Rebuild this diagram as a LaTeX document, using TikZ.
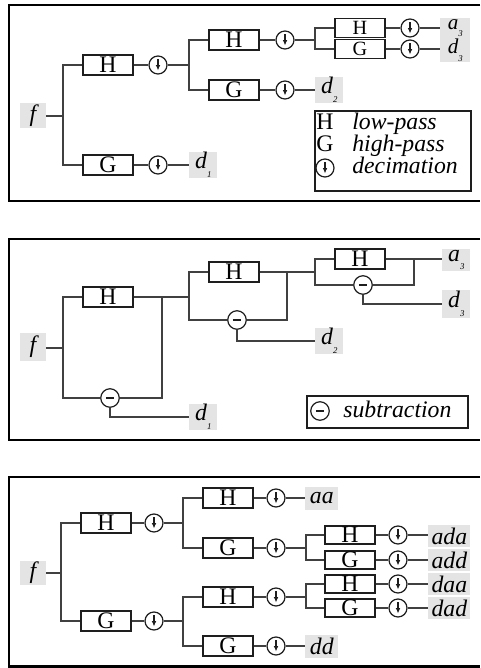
\documentclass[tikz,border=0pt]{standalone}
\usepackage{fontspec}
\setmainfont{Liberation Serif}
\usetikzlibrary{arrows.meta,positioning,calc}
\definecolor{Ink}{HTML}{1E1E1E}
\definecolor{Wire}{HTML}{404040}
\definecolor{Shade}{HTML}{E4E4E4}
\newcommand{\lsub}[2]{\textit{#1}\raisebox{-0.8ex}{\fontsize{5}{5}\selectfont\textit{#2}}}
\tikzset{
  filt/.style={draw=Ink,line width=0.7pt,minimum width=1cm,minimum height=0.4cm,inner sep=0pt,font=\fontsize{13.5}{13.5}\selectfont},
  decim/.style={circle,draw=Ink,line width=0.7pt,minimum size=0.36cm,inner sep=0pt,
    path picture={\draw[line width=0.6pt,-{Latex[length=3pt,width=2.6pt]}] ([yshift=-1.8pt]path picture bounding box.north)--([yshift=2pt]path picture bounding box.south);}},
  subt/.style={circle,draw=Ink,line width=0.7pt,minimum size=0.37cm,inner sep=0pt,
    path picture={\draw[line width=0.9pt] ([xshift=-2.3pt]path picture bounding box.center)--([xshift=2.3pt]path picture bounding box.center);}},
  sig/.style={fill=Shade,minimum width=0.56cm,minimum height=0.46cm,inner sep=0.5pt,font=\fontsize{13.5}{13.5}\selectfont\itshape},
  wire/.style={draw=Wire,line width=0.6pt},
  panel/.style={draw=black,line width=1.4pt},
  legend/.style={draw=Ink,line width=0.6pt},
  keytxt/.style={font=\fontsize{13.5}{13.5}\selectfont\itshape,anchor=base west,inner sep=0pt},
  keysym/.style={font=\fontsize{13.5}{13.5}\selectfont,anchor=base,inner sep=0pt},
}
\begin{document}
\begin{tikzpicture}[x=0.02cm,y=-0.02cm]
\useasboundingbox (0,0) rectangle (480,668);
% top panel: decimated bank
\draw[panel] (480,5) -| (9,201) -- (480,201);
\node[sig,minimum width=0.52cm,minimum height=0.5cm] (f1) at (33,116) {f};
\node[filt] (h1) at (108,65) {H};
\node[filt] (g1) at (108,165) {G};
\node[decim] (dh1) at (158,65) {};
\node[decim] (dg1) at (158,165) {};
\node[sig,anchor=west] (d1) at (189,165) {\lsub{d}{1}};
\node[filt] (h2) at (234,40) {H};
\node[filt] (g2) at (234,90) {G};
\node[decim] (dh2) at (285,40) {};
\node[decim] (dg2) at (285,90) {};
\node[sig,anchor=west] (d2) at (315,90) {\lsub{d}{2}};
\node[filt,minimum height=0.38cm,font=\fontsize{11.5}{11.5}\selectfont] (h3) at (360,28) {H};
\node[filt,minimum height=0.38cm,font=\fontsize{11.5}{11.5}\selectfont] (g3) at (360,49) {G};
\node[decim] (dh3) at (410,28) {};
\node[decim] (dg3) at (410,49) {};
\node[sig,anchor=west,minimum width=0.6cm,minimum height=0.4cm,font=\fontsize{12}{12}\selectfont\itshape] (a3) at (440,28) {\lsub{a}{3}};
\node[sig,anchor=west,minimum width=0.6cm,minimum height=0.44cm,font=\fontsize{12}{12}\selectfont\itshape] (d3) at (440,50) {\lsub{d}{3}};
\coordinate (s1) at (63,116);
\coordinate (s2) at (189,65);
\coordinate (s3) at (315,40);
\draw[wire] (f1) -- (s1);
\draw[wire] (h1.west) -| (s1) |- (g1.west);
\draw[wire] (h1) -- (dh1) -- (s2);
\draw[wire] (g1) -- (dg1) -- (d1);
\draw[wire] (h2.west) -| (s2) |- (g2.west);
\draw[wire] (h2) -- (dh2) -- (s3);
\draw[wire] (g2) -- (dg2) -- (d2);
\draw[wire] (h3.west) -| (s3) |- (g3.west);
\draw[wire] (h3) -- (dh3) -- (a3.west |- dh3);
\draw[wire] (g3) -- (dg3) -- (d3.west |- dg3);
% legend of the top panel
\node[legend,minimum width=3.12cm,minimum height=1.6cm] (k1) at (393,151) {};
\node[keysym] (kh) at (325,130) {H};
\node[keytxt] (khl) at (352,130) {low-pass};
\node[keysym] (kg) at (325,152) {G};
\node[keytxt] (kgl) at (352,152) {high-pass};
\node[decim] (kd) at (325,168) {};
\node[keytxt] (kdl) at (352,174) {decimation};
% middle panel: undecimated, with subtraction
\draw[panel] (480,239) -| (9,440) -- (480,440);
\node[sig,minimum width=0.52cm,minimum height=0.56cm] (f2) at (33,347) {f};
\node[filt] (hb1) at (108,297) {H};
\node[subt] (m1) at (110,398) {};
\node[sig,anchor=west] (e1) at (189,417) {\lsub{d}{1}};
\node[filt] (hb2) at (234,272) {H};
\node[subt] (m2) at (237,320) {};
\node[sig,anchor=west] (e2) at (315,341) {\lsub{d}{2}};
\node[filt] (hb3) at (360,259) {H};
\node[subt] (m3) at (363,285) {};
\node[sig,anchor=west,minimum width=0.56cm] (e3a) at (442,260) {\lsub{a}{3}};
\node[sig,anchor=west,minimum width=0.56cm] (e3d) at (442,304) {\lsub{d}{3}};
\coordinate (q1) at (63,348);
\coordinate (j1) at (162,297);
\coordinate (q2) at (189,297);
\coordinate (j2) at (287,272);
\coordinate (q3) at (315,272);
\coordinate (j3) at (414,259);
\draw[wire] (f2.east |- q1) -- (q1);
\draw[wire] (hb1.west) -| (q1) |- (m1.west);
\draw[wire] (hb1.east) -- (j1) |- (m1.east);
\draw[wire] (m1.south) |- (e1.west);
\draw[wire] (j1) -- (q2);
\draw[wire] (hb2.west) -| (q2) |- (m2.west);
\draw[wire] (hb2.east) -- (j2) |- (m2.east);
\draw[wire] (m2.south) |- (e2.west);
\draw[wire] (j2) -- (q3);
\draw[wire] (hb3.west) -| (q3) |- (m3.west);
\draw[wire] (hb3.east) -- (j3) |- (m3.east);
\draw[wire] (j3) -- (e3a.west |- j3);
\draw[wire] (m3.south) |- (e3d.west);
% legend of the middle panel
\node[legend,minimum width=3.22cm,minimum height=0.64cm] (k2) at (387.5,412) {};
\node[subt] (ks) at (320,411) {};
\node[keytxt] (ksl) at (343,417) {subtraction};
% bottom panel: full packet tree
\draw[panel] (480,477) -| (9,666.5) -- (480,666.5);
\node[sig,minimum width=0.52cm,minimum height=0.48cm] (f3) at (33,573) {f};
\node[filt] (ph) at (106,523) {H};
\node[filt] (pg) at (106,621) {G};
\node[decim] (dph) at (154,523) {};
\node[decim] (dpg) at (154,621) {};
\node[filt] (phh) at (228,498) {H};
\node[filt] (phg) at (228,548) {G};
\node[filt] (pgh) at (228,597) {H};
\node[filt] (pgg) at (228,646) {G};
\node[decim] (dphh) at (276,498) {};
\node[decim] (dphg) at (276,548) {};
\node[decim] (dpgh) at (276,597) {};
\node[decim] (dpgg) at (276,646) {};
\node[sig,anchor=west,minimum width=0.66cm] (aa) at (305,498) {aa};
\node[sig,anchor=west,minimum width=0.66cm] (dd) at (305,646) {dd};
\node[filt,minimum height=0.36cm] (phgh) at (350,535) {H};
\node[filt,minimum height=0.36cm] (phgg) at (350,560) {G};
\node[filt,minimum height=0.36cm] (pghh) at (350,584) {H};
\node[filt,minimum height=0.36cm] (pghg) at (350,608) {G};
\node[decim] (dphgh) at (398,535) {};
\node[decim] (dphgg) at (398,560) {};
\node[decim] (dpghh) at (398,584) {};
\node[decim] (dpghg) at (398,608) {};
\node[sig,anchor=west,minimum width=0.84cm,minimum height=0.45cm] (ada) at (428,536) {ada};
\node[sig,anchor=west,minimum width=0.84cm,minimum height=0.45cm] (add) at (428,560) {add};
\node[sig,anchor=west,minimum width=0.84cm,minimum height=0.45cm] (daa) at (428,584) {daa};
\node[sig,anchor=west,minimum width=0.84cm,minimum height=0.45cm] (dad) at (428,608) {dad};
\coordinate (t1) at (61,573);
\coordinate (t2) at (183,523);
\coordinate (t3) at (183,621);
\coordinate (t4) at (306,548);
\coordinate (t5) at (306,597);
\draw[wire] (f3.east |- t1) -- (t1);
\draw[wire] (ph.west) -| (t1) |- (pg.west);
\draw[wire] (ph) -- (dph) -- (t2);
\draw[wire] (pg) -- (dpg) -- (t3);
\draw[wire] (phh.west) -| (t2) |- (phg.west);
\draw[wire] (pgh.west) -| (t3) |- (pgg.west);
\draw[wire] (phh) -- (dphh) -- (aa);
\draw[wire] (pgg) -- (dpgg) -- (dd);
\draw[wire] (phg) -- (dphg) -- (t4);
\draw[wire] (pgh) -- (dpgh) -- (t5);
\draw[wire] (phgh.west) -| (t4) |- (phgg.west);
\draw[wire] (pghh.west) -| (t5) |- (pghg.west);
\draw[wire] (phgh) -- (dphgh) -- (ada.west |- dphgh);
\draw[wire] (phgg) -- (dphgg) -- (add.west |- dphgg);
\draw[wire] (pghh) -- (dpghh) -- (daa.west |- dpghh);
\draw[wire] (pghg) -- (dpghg) -- (dad.west |- dpghg);
\end{tikzpicture}
\end{document}
